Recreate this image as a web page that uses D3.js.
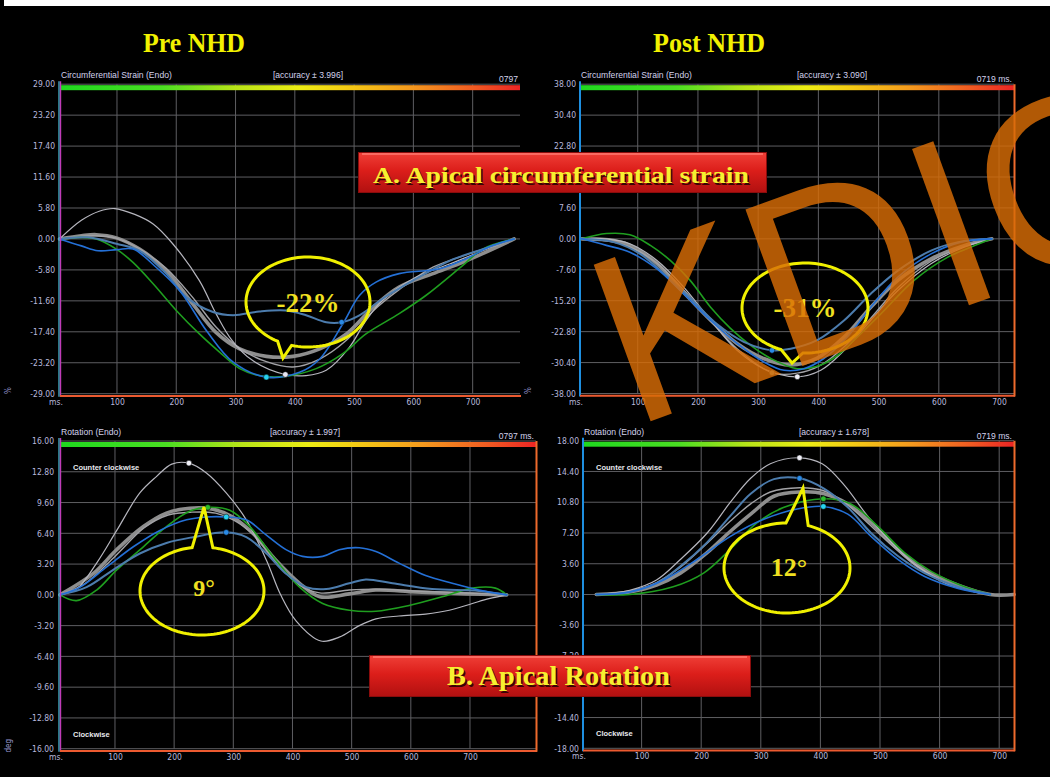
<!DOCTYPE html>
<html>
<head>
<meta charset="utf-8">
<script src="https://cdn.jsdelivr.net/npm/d3@7"></script>
<style>
  html, body { margin: 0; padding: 0; background: #000; }
  svg { display: block; }
</style>
</head>
<body>
<svg id="chart" width="1050" height="777"></svg>
<script>
// ---------- tick labels ----------
const timeTicks = [100, 200, 300, 400, 500, 600, 700];
const strainPreTicks  = [29, 23.2, 17.4, 11.6, 5.8, 0, -5.8, -11.6, -17.4, -23.2, -29];
const strainPostTicks = [38, 30.4, 22.8, 15.2, 7.6, 0, -7.6, -15.2, -22.8, -30.4, -38];
const rotPreTicks     = [16, 12.8, 9.6, 6.4, 3.2, 0, -3.2, -6.4, -9.6, -12.8, -16];
const rotPostTicks    = [18, 14.4, 10.8, 7.2, 3.6, 0, -3.6, -7.2, -10.8, -14.4, -18];

// ---------- series: [time ms, value] ----------
// Pre NHD, circumferential strain (%)
const preStrainAvg   = [[3,0],[40,0.6],[65,0.8],[99,0.2],[138,-1.9],[183,-5.9],[228,-12.2],[267,-17.5],[307,-20.6],[352,-22],[397,-22],[442,-20.6],[487,-17.8],[532,-12.8],[576,-9],[633,-6.5],[689,-4.1],[770,0]];
const preStrainGray  = [[3,0],[60,0.6],[100,0.1],[140,-2],[183,-5.5],[228,-11],[267,-16.5],[307,-20.5],[352,-23],[397,-24],[442,-22.5],[487,-19],[532,-13.5],[576,-9.5],[633,-5.3],[689,-3],[770,0]];
const preStrainWhite = [[3,0],[40,3.5],[70,5.2],[96,5.7],[130,4.6],[161,2.8],[194,-0.9],[239,-7.8],[267,-14],[294,-19],[329,-22.8],[384,-25.4],[419,-25.6],[453,-24.6],[492,-20.3],[520,-15.3],[548,-11.5],[604,-7.2],[661,-4.7],[717,-2.2],[770,0]];
const preStrainGreen = [[3,0],[40,0.3],[65,0],[99,-1.9],[127,-4.4],[161,-8.4],[200,-13.4],[239,-17.8],[273,-21.2],[307,-24.3],[340,-25.6],[380,-25.8],[436,-24.3],[481,-21.5],[520,-17.8],[576,-14],[621,-10.6],[683,-5],[717,-1.9],[770,0]];
const preStrainSteel = [[3,0],[50,0.3],[99,-0.9],[138,-2.2],[183,-6.5],[217,-10.9],[262,-13.7],[296,-14.3],[340,-13.6],[385,-13.4],[419,-14.3],[453,-15.6],[479,-15.6],[509,-14.3],[548,-11.2],[604,-7.5],[661,-4.1],[717,-1.9],[770,0]];
const preStrainBlue  = [[3,0],[40,-1.3],[68,-2.2],[100,-2],[127,-1.9],[166,-5.3],[206,-9.7],[251,-17.2],[296,-23.1],[352,-25.9],[408,-25],[442,-22.5],[481,-15.9],[509,-10.6],[537,-8.1],[576,-6.5],[644,-5.6],[689,-3.7],[734,-1.2],[770,0]];
const preStrainDots  = [[352,-25.9,"#27d3f0"],[384,-25.4,"#e8e8f4"],[479,-15.6,"#2a8ae6"]];

// Post NHD, circumferential strain (%)
const postStrainAvg   = [[7,0],[60,-0.4],[87,-1.6],[132,-6.1],[176,-13.1],[221,-20],[265,-25.7],[309,-29.4],[354,-31],[398,-29.3],[443,-24.1],[487,-16.8],[532,-10.2],[587,-4.9],[643,-1.6],[688,0]];
const postStrainGray  = [[7,0],[48,-0.5],[87,-2],[132,-6],[176,-12.5],[221,-20],[265,-27],[323,-32.9],[365,-33],[404,-31],[443,-26.5],[487,-19.5],[532,-12],[587,-5.5],[643,-1.8],[688,0]];
const postStrainWhite = [[7,0],[48,0],[87,-1.2],[132,-5.3],[176,-11.8],[221,-20],[265,-27.4],[309,-31.9],[365,-33.9],[404,-32.3],[443,-27.4],[487,-20],[532,-12.7],[587,-6.1],[643,-2],[688,0]];
const postStrainGreen = [[7,0],[48,1.3],[87,1.0],[121,-1.6],[154,-5.3],[187,-10.2],[221,-16.8],[254,-22],[287,-26.1],[321,-29.4],[365,-31.9],[404,-31],[432,-28.6],[465,-24.1],[504,-18.4],[559,-10.2],[615,-4.5],[654,-2],[688,0]];
const postStrainSteel = [[7,0],[60,-0.8],[104,-3.7],[143,-8.5],[187,-14.5],[232,-21],[276,-25.3],[323,-27.4],[354,-27],[398,-24.9],[443,-20],[487,-13.5],[532,-7.8],[587,-2.9],[632,-0.8],[688,0]];
const postStrainBlue  = [[7,0],[48,-1.6],[87,-3.3],[132,-7.4],[176,-13.5],[221,-20],[265,-25.7],[309,-30.2],[343,-32.3],[376,-31.9],[409,-29.4],[448,-24.1],[487,-16.8],[532,-9.4],[587,-3.7],[637,-0.8],[688,0]];
const postStrainDots  = [[323,-27.4,"#2a8ae6"],[323,-32.9,"#8fae8c"],[365,-33.9,"#f0f0f8"]];

// Pre NHD, rotation (deg)
const preRotAvg   = [[7,0],[63,2.2],[103,4.7],[148,7.1],[187,8.5],[226,9.0],[266,8.9],[299,8.1],[333,6.4],[372,3.6],[412,1.2],[446,-0.2],[496,0.1],[541,0.5],[608,0.3],[693,0.1],[762,0]];
const preRotGray  = [[7,0],[50,1.2],[100,4],[150,7],[190,8.3],[230,8.6],[270,8.5],[300,7.8],[335,6.2],[372,3.4],[412,1.0],[446,0.2],[496,0.5],[541,0.6],[608,0.4],[693,0.2],[762,0]];
const preRotWhite = [[7,0],[35,0.6],[69,3.3],[103,6.7],[142,10.6],[170,12.3],[196,13.6],[225,13.7],[254,12.7],[288,10.6],[322,7.8],[356,3.6],[380,0],[406,-2.7],[448,-4.8],[479,-4.4],[513,-3.2],[541,-2.5],[580,-2.2],[625,-2.0],[665,-1.6],[704,-0.9],[732,-0.4],[762,0]];
const preRotGreen = [[7,0],[35,-0.6],[69,0.5],[103,2.6],[148,5.0],[187,7.1],[226,8.7],[257,9.1],[294,8.8],[328,7.1],[367,4.0],[412,0.8],[451,-0.9],[496,-1.6],[541,-1.7],[597,-1.1],[653,-0.2],[704,0.7],[743,0.7],[762,0]];
const preRotSteel = [[7,0],[52,0.8],[97,2.6],[142,4.3],[187,5.4],[232,6.0],[288,6.5],[322,6.0],[356,4.3],[389,2.2],[423,0.8],[457,0.6],[496,1.2],[524,1.6],[569,1.2],[636,0.6],[715,0.4],[762,0]];
const preRotBlue  = [[7,0],[41,0.8],[86,2.9],[131,5.0],[176,6.7],[221,7.8],[254,8.1],[288,8.1],[322,7.8],[356,6.2],[389,4.7],[417,4.0],[451,4.0],[479,4.7],[513,4.9],[541,4.5],[580,3.3],[625,2.0],[670,1.2],[715,0.5],[762,0]];
const preRotDots  = [[225,13.7,"#f0f0f8"],[257,9.1,"#2bbb2b"],[288,8.1,"#27d3f0"],[288,6.5,"#2a8ae6"]];

// Post NHD, rotation (deg)
const postRotAvg   = [[24,0],[80,0.3],[125,1.1],[165,2.5],[210,4.9],[249,7.4],[283,9.4],[322,11.5],[365,12],[406,11.8],[446,10.6],[485,8.4],[530,5.3],[575,2.9],[631,1.1],[685,0],[725,0]];
const postRotGray  = [[24,0],[80,0.4],[125,1.4],[165,3.2],[210,6.0],[249,8.6],[283,10.6],[316,12.0],[365,12.5],[403,12.2],[440,10.8],[479,8.4],[519,5.8],[563,3.2],[614,1.2],[653,0.4],[685,0]];
const postRotWhite = [[24,0],[80,0.5],[125,1.7],[165,4.1],[210,7.2],[249,10.8],[283,13.6],[316,15.3],[365,16.0],[403,15.3],[440,12.8],[479,9.2],[519,6.1],[563,3.3],[614,1.3],[653,0.5],[685,0]];
const postRotGreen = [[24,0],[80,0],[153,0.9],[204,2.5],[249,5.3],[294,8.4],[339,10.2],[405,11.2],[451,10.6],[496,8.0],[541,4.9],[586,2.7],[642,0.9],[685,0]];
const postRotSteel = [[24,0],[80,0.3],[125,1.3],[165,3.3],[210,6.1],[249,9.2],[283,11.8],[322,13.5],[365,13.6],[406,12.4],[446,10.2],[485,7.2],[530,4.5],[575,2.5],[631,0.9],[685,0]];
const postRotBlue  = [[24,0],[80,0.3],[137,1.7],[193,4.1],[249,6.8],[305,8.8],[361,10.0],[405,10.3],[446,9.4],[485,6.8],[530,4.1],[575,2.1],[631,0.7],[685,0]];
const postRotDots  = [[365,16.0,"#f0f0f8"],[365,13.6,"#2a8ae6"],[405,11.2,"#2bbb2b"],[405,10.3,"#27d3f0"]];

// ---------- labels ----------
const columnTitles = ["Pre NHD", "Post NHD"];
const bubbleLabels = ["-22%", "-31%", "9°", "12°"];
const bannerLabels = ["A. Apical circumferential strain", "B. Apical Rotation"];

// ---------- drawing ----------
const svg = d3.select("#chart");
svg.append("rect").attr("width", 1050).attr("height", 777).attr("fill", "#000");
svg.append("rect").attr("x", 4).attr("y", 0).attr("width", 1046).attr("height", 6).attr("fill", "#fff");

const defs = svg.append("defs");
const bar = defs.append("linearGradient").attr("id", "bargrad");
[["0%","#1fd81f"],["22%","#4ade22"],["38%","#b8e418"],["52%","#ecec14"],["62%","#f4cc14"],["76%","#f49a1e"],["90%","#f05a22"],["100%","#ec2424"]]
  .forEach(([o, c]) => bar.append("stop").attr("offset", o).attr("stop-color", c));
const ban = defs.append("linearGradient").attr("id", "bangrad").attr("x1", 0).attr("x2", 0).attr("y1", 0).attr("y2", 1);
[["0%","#f04038"],["45%","#dc1e1a"],["100%","#b01010"]]
  .forEach(([o, c]) => ban.append("stop").attr("offset", o).attr("stop-color", c));

const palette = {
  avg:   { stroke: "#8e8e8e", width: 3.6 },
  gray:  { stroke: "#a2a2a6", width: 1.4 },
  white: { stroke: "#b6b6be", width: 1.2 },
  green: { stroke: "#1f9e1f", width: 1.6 },
  steel: { stroke: "#4c7cad", width: 2.0 },
  blue:  { stroke: "#2470d6", width: 1.6 }
};

const panels = [
  { x0: 57.7, k: 0.5928, left: 60, right: 520, top: 84.2, bottom: 393.7, ticks: strainPreTicks,
    labelRight: 55, leftAxis: "pink", rightBorder: false, unit: "%",
    title: "Circumferential Strain (Endo)", accuracy: "[accuracy ± 3.996]", accX: 308, len: "0797",
    series: { avg: preStrainAvg, gray: preStrainGray, white: preStrainWhite, green: preStrainGreen, steel: preStrainSteel, blue: preStrainBlue },
    dots: preStrainDots },
  { x0: 577.5, k: 0.6022, left: 580, right: 1014, top: 84.2, bottom: 393.5, ticks: strainPostTicks,
    labelRight: 576, leftAxis: "blue", rightBorder: true, unit: "%",
    title: "Circumferential Strain (Endo)", accuracy: "[accuracy ± 3.090]", accX: 832, len: "0719 ms.",
    series: { avg: postStrainAvg, gray: postStrainGray, white: postStrainWhite, green: postStrainGreen, steel: postStrainSteel, blue: postStrainBlue },
    dots: postStrainDots },
  { x0: 55.8, k: 0.5917, left: 60, right: 536, top: 441, bottom: 748.7, ticks: rotPreTicks,
    labelRight: 54, leftAxis: "pink", rightBorder: true, unit: "deg", sides: true,
    title: "Rotation (Endo)", accuracy: "[accuracy ± 1.997]", accX: 305, len: "0797 ms.",
    series: { avg: preRotAvg, gray: preRotGray, white: preRotWhite, green: preRotGreen, steel: preRotSteel, blue: preRotBlue },
    dots: preRotDots },
  { x0: 582, k: 0.596, left: 583, right: 1014, top: 440.7, bottom: 748.3, ticks: rotPostTicks,
    labelRight: 579, leftAxis: "blue", rightBorder: true, unit: null, sides: true,
    title: "Rotation (Endo)", accuracy: "[accuracy ± 1.678]", accX: 834, len: "0719 ms.",
    series: { avg: postRotAvg, gray: postRotGray, white: postRotWhite, green: postRotGreen, steel: postRotSteel, blue: postRotBlue },
    dots: postRotDots }
];

const smallFont = "'DejaVu Sans Condensed', 'DejaVu Sans', sans-serif";
const headFont = "'Liberation Sans', Arial, sans-serif";

panels.forEach(p => {
  const x = d3.scaleLinear().domain([0, (p.right - p.x0) / p.k]).range([p.x0, p.right]);
  const ymax = p.ticks[0];
  const y = d3.scaleLinear().domain([-ymax, ymax]).range([p.bottom, p.top]);
  const g = svg.append("g");

  // grid
  g.append("g").selectAll("line").data(timeTicks).join("line")
    .attr("x1", d => x(d)).attr("x2", d => x(d)).attr("y1", p.top).attr("y2", p.bottom)
    .attr("stroke", "#5e5e62").attr("stroke-width", 1);
  g.append("g").selectAll("line").data(p.ticks).join("line")
    .attr("x1", p.left).attr("x2", p.right).attr("y1", d => y(d)).attr("y2", d => y(d))
    .attr("stroke", "#5e5e62").attr("stroke-width", 1);

  // colour bar along the top
  g.append("rect").attr("x", p.left + 1).attr("y", p.top + 1).attr("width", p.right - p.left - 1).attr("height", 5)
    .attr("fill", "url(#bargrad)");

  // curves
  const line = d3.line().x(d => x(d[0])).y(d => y(d[1])).curve(d3.curveCatmullRom.alpha(0.5));
  ["avg", "gray", "white", "green", "steel", "blue"].forEach(key => {
    g.append("path").attr("d", line(p.series[key])).attr("fill", "none")
      .attr("stroke", palette[key].stroke).attr("stroke-width", palette[key].width)
      .attr("stroke-linejoin", "round").attr("stroke-linecap", "round");
  });
  g.append("g").selectAll("circle").data(p.dots).join("circle")
    .attr("cx", d => x(d[0])).attr("cy", d => y(d[1])).attr("r", 2.8)
    .attr("fill", d => d[2]).attr("stroke", "#000").attr("stroke-width", 0.5);

  // frame
  if (p.leftAxis === "pink") {
    g.append("line").attr("x1", p.left - 1).attr("x2", p.left - 1).attr("y1", p.top - 3).attr("y2", p.bottom + 3)
      .attr("stroke", "#48c8e0").attr("stroke-width", 1.2);
    g.append("line").attr("x1", p.left + 0.5).attr("x2", p.left + 0.5).attr("y1", p.top - 3).attr("y2", p.bottom + 3)
      .attr("stroke", "#c03cb8").attr("stroke-width", 1.4);
  } else {
    g.append("line").attr("x1", p.left).attr("x2", p.left).attr("y1", p.top - 3).attr("y2", p.bottom + 3)
      .attr("stroke", "#1e8fe0").attr("stroke-width", 2);
  }
  g.append("line").attr("x1", p.left).attr("x2", p.right + 1).attr("y1", p.bottom + 2.3).attr("y2", p.bottom + 2.3)
    .attr("stroke", "#ec5a30").attr("stroke-width", 2);
  if (p.rightBorder) {
    g.append("line").attr("x1", p.right + 0.5).attr("x2", p.right + 0.5).attr("y1", p.top).attr("y2", p.bottom + 3)
      .attr("stroke", "#ee6a2c").attr("stroke-width", 2);
  }

  // axes labels through d3 axes
  const ya = g.append("g").attr("transform", `translate(${p.labelRight},0)`)
    .call(d3.axisLeft(y).tickValues(p.ticks).tickSize(0).tickPadding(0).tickFormat(d => d.toFixed(2)));
  ya.select(".domain").remove();
  ya.selectAll("text").attr("fill", "#b8b8dc").attr("font-size", 8.5).attr("font-family", smallFont);

  const xa = g.append("g").attr("transform", `translate(0,${p.bottom + 5})`)
    .call(d3.axisBottom(x).tickValues(timeTicks).tickSize(0).tickPadding(0));
  xa.select(".domain").remove();
  xa.selectAll("text").attr("fill", "#b8b8dc").attr("font-size", 8.5).attr("font-family", smallFont);
  g.append("text").attr("x", p.left - 4).attr("y", p.bottom + 11).attr("text-anchor", "middle")
    .attr("fill", "#b8b8dc").attr("font-size", 8.5).attr("font-family", smallFont).text("ms.");

  if (p.unit) {
    g.append("text").attr("transform", `translate(${p.left - 49},${p.bottom - 3}) rotate(-90)`)
      .attr("text-anchor", "middle").attr("fill", "#9a9ad0").attr("font-size", 8).attr("font-family", smallFont).text(p.unit);
  }

  // header texts
  g.append("text").attr("x", p.left + 1).attr("y", p.top - 6).attr("fill", "#d2d2ec")
    .attr("font-size", 8.6).attr("font-family", headFont).text(p.title);
  g.append("text").attr("x", p.accX).attr("y", p.top - 6).attr("text-anchor", "middle").attr("fill", "#d2d2ec")
    .attr("font-size", 8.6).attr("font-family", headFont).text(p.accuracy);
  g.append("text").attr("x", p.right - 2).attr("y", p.top - 2).attr("text-anchor", "end").attr("fill", "#d2d2ec")
    .attr("font-size", 8.6).attr("font-family", headFont).text(p.len);

  if (p.sides) {
    g.append("text").attr("x", p.left + 13).attr("y", p.top + 29).attr("fill", "#e8e8ee").attr("font-weight", "bold")
      .attr("font-size", 7.5).attr("font-family", headFont).text("Counter clockwise");
    g.append("text").attr("x", p.left + 13).attr("y", p.bottom - 12).attr("fill", "#e8e8ee").attr("font-weight", "bold")
      .attr("font-size", 7.5).attr("font-family", headFont).text("Clockwise");
  }
});

// column titles
const serif = "'Liberation Serif', 'DejaVu Serif', serif";
[[194, columnTitles[0], 102], [709, columnTitles[1], 112]].forEach(([cx, t, w]) => {
  svg.append("text").attr("x", cx).attr("y", 52).attr("text-anchor", "middle")
    .attr("fill", "#f2f200").attr("font-size", 27).attr("font-weight", "bold").attr("font-family", serif)
    .attr("textLength", w).attr("lengthAdjust", "spacingAndGlyphs").text(t);
});

// speech-bubble callouts
function bubblePath(cx, cy, rx, ry, b1, tip, b2) {
  const ang = ([px, py]) => Math.atan2((py - cy) / ry, (px - cx) / rx);
  const a1 = ang(b1), a2 = ang(b2);
  let d = a1 - a2;
  while (d > Math.PI) d -= 2 * Math.PI;
  while (d <= -Math.PI) d += 2 * Math.PI;
  const end = d > 0 ? a2 + d - 2 * Math.PI : a2 + d + 2 * Math.PI;
  const pts = d3.range(0, 121).map(i => {
    const a = a2 + (end - a2) * i / 120;
    return [cx + rx * Math.cos(a), cy + ry * Math.sin(a)];
  });
  pts.push(tip);
  return d3.line()(pts) + "Z";
}
const bubbles = [
  { c: [308, 302], r: [62, 45], b1: [277, 342], tip: [283, 358], b2: [291, 347], label: bubbleLabels[0], tx: 308, ty: 312, fs: 27 },
  { c: [805, 308], r: [63, 45], b1: [782, 348], tip: [792, 363], b2: [803, 353], label: bubbleLabels[1], tx: 805, ty: 317, fs: 27 },
  { c: [202, 591], r: [62, 44], b1: [192, 547], tip: [204, 507], b2: [213, 547], label: bubbleLabels[2], tx: 204, ty: 596, fs: 24 },
  { c: [787, 568], r: [63, 45], b1: [786, 523], tip: [803, 488], b2: [808, 526], label: bubbleLabels[3], tx: 789, ty: 576, fs: 26 }
];
bubbles.forEach(b => {
  svg.append("path").attr("d", bubblePath(b.c[0], b.c[1], b.r[0], b.r[1], b.b1, b.tip, b.b2))
    .attr("fill", "none").attr("stroke", "#f0f000").attr("stroke-width", 3).attr("stroke-linejoin", "miter");
  svg.append("text").attr("x", b.tx).attr("y", b.ty).attr("text-anchor", "middle")
    .attr("fill", "#f0e020").attr("font-size", b.fs).attr("font-weight", "bold").attr("font-family", serif).text(b.label);
});

// section banners
const banners = [
  { x: 358, y: 152, w: 409, h: 41, label: bannerLabels[0], tx: 373, tw: 376, ty: 183, fs: 24 },
  { x: 369, y: 655, w: 382, h: 42, label: bannerLabels[1], tx: 447, tw: 223, ty: 685, fs: 27 }
];
banners.forEach(b => {
  svg.append("rect").attr("x", b.x).attr("y", b.y).attr("width", b.w).attr("height", b.h).attr("fill", "url(#bangrad)");
  svg.append("rect").attr("x", b.x + 0.5).attr("y", b.y + 0.5).attr("width", b.w - 1).attr("height", b.h - 1)
    .attr("fill", "none").attr("stroke", "#8a0c0c").attr("stroke-width", 1);
  svg.append("line").attr("x1", b.x + 4).attr("x2", b.x + b.w - 4).attr("y1", b.y + 2).attr("y2", b.y + 2)
    .attr("stroke", "#ff7a70").attr("stroke-width", 1.5);
  svg.append("text").attr("x", b.tx + 1.5).attr("y", b.ty + 1.5).attr("fill", "#3a0404")
    .attr("font-size", b.fs).attr("font-weight", "bold").attr("font-family", serif)
    .attr("textLength", b.tw).attr("lengthAdjust", "spacingAndGlyphs").text(b.label);
  svg.append("text").attr("x", b.tx).attr("y", b.ty).attr("fill", "#f6f030")
    .attr("font-size", b.fs).attr("font-weight", "bold").attr("font-family", serif)
    .attr("textLength", b.tw).attr("lengthAdjust", "spacingAndGlyphs").text(b.label);
});

// overlay lettering
svg.append("text").attr("transform", "translate(632,428) rotate(-20)")
  .attr("fill", "#d86c06").attr("fill-opacity", 0.82)
  .attr("font-size", 242).attr("font-family", headFont).text("KDIC");
</script>
</body>
</html>
